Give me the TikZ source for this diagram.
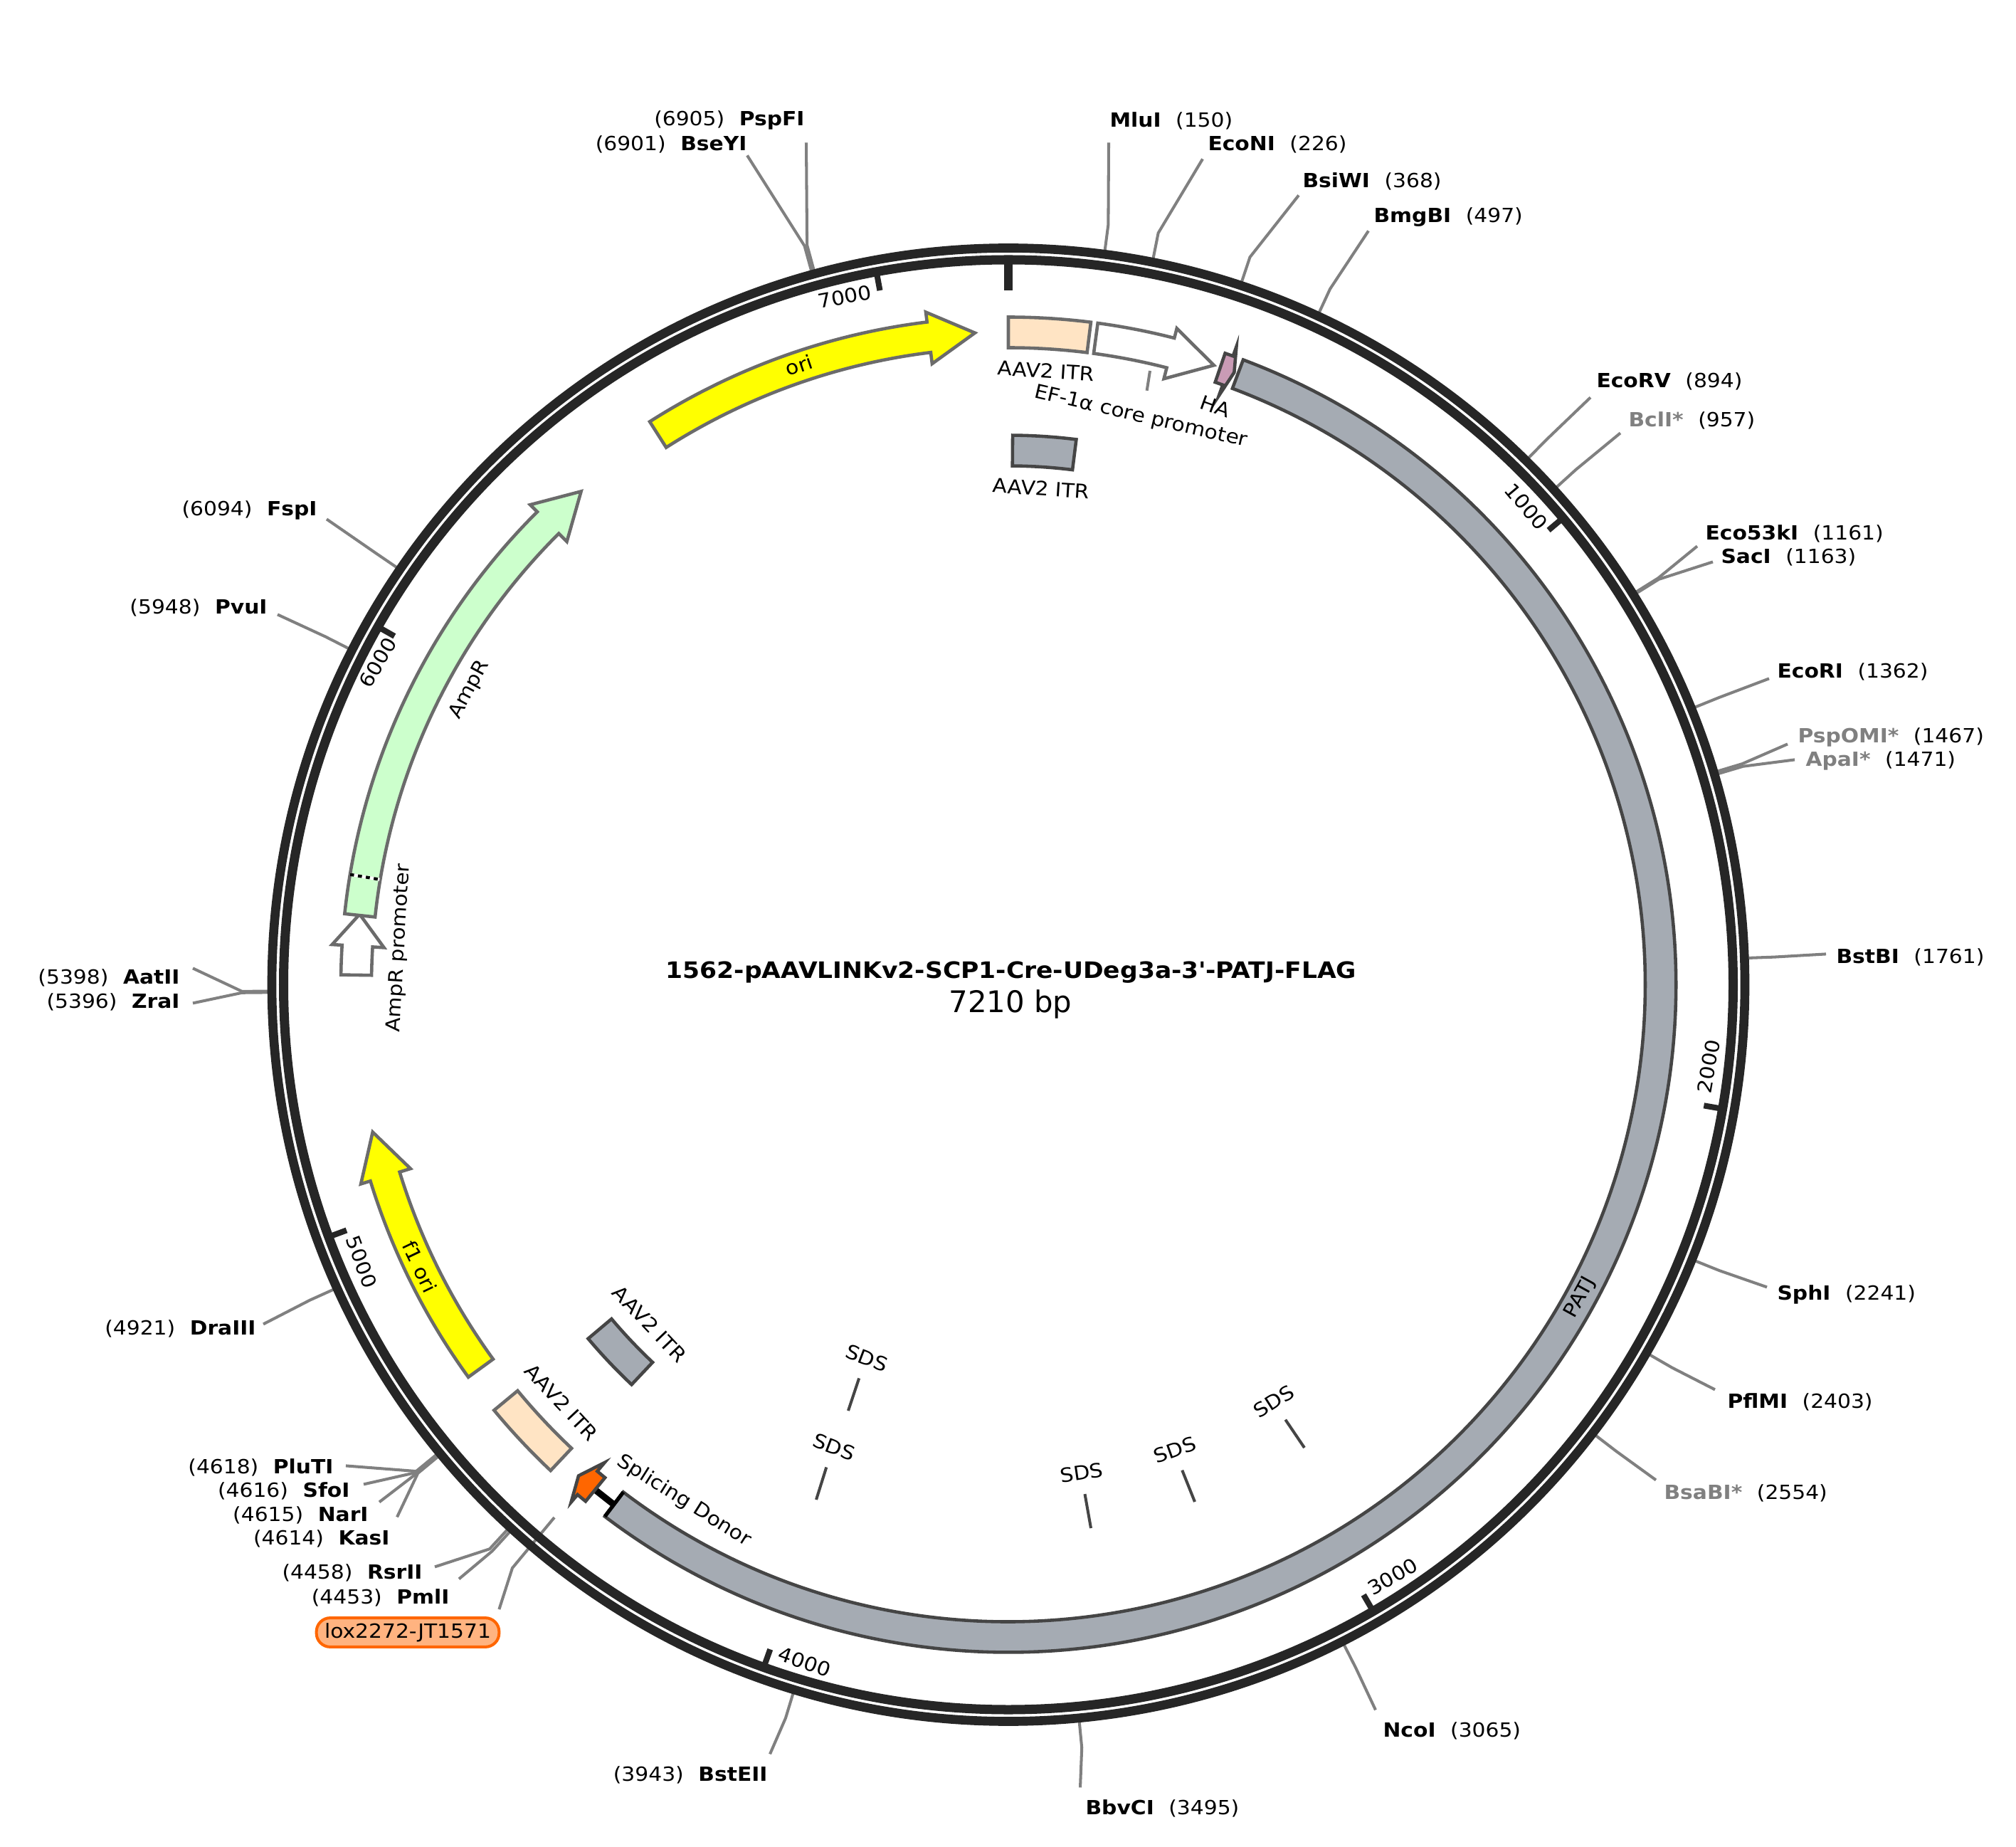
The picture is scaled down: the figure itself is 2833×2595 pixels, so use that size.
\documentclass[tikz,border=0pt]{standalone}
\usepackage{fontspec}
\setmainfont[FakeStretch=1.085]{DejaVu Sans}
\newfontfamily\sizefont{DejaVu Sans}
\definecolor{ring_col}{HTML}{262626}
\definecolor{cut_col}{HTML}{808080}
\definecolor{edge_col}{HTML}{6B6B6B}
\definecolor{edge_dark}{HTML}{454545}
\definecolor{gray_feat}{HTML}{A5ABB3}
\definecolor{peach_feat}{HTML}{FFE4C4}
\definecolor{green_feat}{HTML}{CCFFCC}
\definecolor{yellow_feat}{HTML}{FFFF00}
\definecolor{pink_feat}{HTML}{C99BB5}
\definecolor{orange_feat}{HTML}{FF6600}
\definecolor{lox_fill}{HTML}{FFB380}
% annular box: [style]{from}{to}{outer}{inner}, angles clockwise from the top
\newcommand{\featbox}[5][]{\draw[#1] ({90-#2}:#4) arc[start angle=90-#2,end angle=90-#3,radius=#4] -- ({90-#3}:#5) arc[start angle=90-#3,end angle=90-#2,radius=#5] -- cycle;}
% annular arrow: [style]{tail}{shoulder}{tip}
\newcommand{\featarrow}[4][]{\draw[#1] ({90-#2}:938) arc[start angle=90-#2,end angle=90-#3,radius=938] -- ({90-#3}:952) -- ({90-#4}:917) -- ({90-#3}:879) -- ({90-#3}:895) arc[start angle=90-#3,end angle=90-#2,radius=895] -- cycle;}

\begin{document}
\begin{tikzpicture}[
  x=.01cm,y=.01cm,
  base_font/.style={font=\fontsize{7.8pt}{9pt}\selectfont},
  site_right/.style={base_font,anchor=west,inner sep=2.5pt,yshift=-.4pt},
  site_left/.style={base_font,anchor=east,inner sep=2.5pt,yshift=-.4pt},
  cut_line/.style={draw=cut_col,line width=1.15pt},
  feat/.style={draw=edge_col,line width=1.3pt,miter limit=20},
  feat_dark/.style={draw=edge_dark,line width=1.3pt,miter limit=20},
  feat_label/.style={base_font,inner sep=0pt},
  tick_label/.style={base_font,inner sep=0pt},
  sds_label/.style={base_font,inner xsep=0pt,inner ysep=5.5pt},
  sds_line/.style={draw=edge_dark,line width=1.15pt}
  ]
  \useasboundingbox (0,0) rectangle (2833,-2595);

%title
  \node (title) [font=\fontsize{9.05pt}{10pt}\selectfont\bfseries,inner sep=0pt] at(1421,-1366) {1562-pAAVLINKv2-SCP1-Cre-UDeg3a-3\textquotesingle-PATJ-FLAG};
  \node (size) [font=\fontsize{11.9pt}{14pt}\selectfont\sizefont,inner sep=0pt] at(1420,-1411) {7210 bp};

%sites, right side
  \node (MluI) [site_right] at(1550,-168) {\textbf{MluI}\hspace{.75em}(150)};
  \node (EcoNI) [site_right] at(1688,-202) {\textbf{EcoNI}\hspace{.75em}(226)};
  \node (BsiWI) [site_right] at(1821,-253) {\textbf{BsiWI}\hspace{.75em}(368)};
  \node (BmgBI) [site_right] at(1921,-304) {\textbf{BmgBI}\hspace{.75em}(497)};
  \node (EcoRV) [site_right] at(2234,-535) {\textbf{EcoRV}\hspace{.75em}(894)};
  \node (BclI) [site_right] at(2279,-589) {\textcolor{cut_col}{\textbf{BclI*}}\hspace{.75em}(957)};
  \node (Eco53kI) [site_right] at(2387,-748) {\textbf{Eco53kI}\hspace{.75em}(1161)};
  \node (SacI) [site_right] at(2409,-782) {\textbf{SacI}\hspace{.75em}(1163)};
  \node (EcoRI) [site_right] at(2488,-943) {\textbf{EcoRI}\hspace{.75em}(1362)};
  \node (PspOMI) [site_right] at(2517,-1035) {\textcolor{cut_col}{\textbf{PspOMI*}}\hspace{.75em}(1467)};
  \node (ApaI) [site_right] at(2528,-1068) {\textcolor{cut_col}{\textbf{ApaI*}}\hspace{.75em}(1471)};
  \node (BstBI) [site_right] at(2571,-1343) {\textbf{BstBI}\hspace{.75em}(1761)};
  \node (SphI) [site_right] at(2488,-1818) {\textbf{SphI}\hspace{.75em}(2241)};
  \node (PflMI) [site_right] at(2418,-1968) {\textbf{PflMI}\hspace{.75em}(2403)};
  \node (BsaBI) [site_right] at(2329,-2096) {\textcolor{cut_col}{\textbf{BsaBI*}}\hspace{.75em}(2554)};
  \node (NcoI) [site_right] at(1934,-2430) {\textbf{NcoI}\hspace{.75em}(3065)};
  \node (BbvCI) [site_right] at(1516,-2539) {\textbf{BbvCI}\hspace{.75em}(3495)};

%sites, left side
  \node (BstEII) [site_left] at(1088,-2492) {(3943)\hspace{.75em}\textbf{BstEII}};
  \node (PmlI) [site_left] at(641,-2243) {(4453)\hspace{.75em}\textbf{PmlI}};
  \node (RsrII) [site_left] at(603,-2208) {(4458)\hspace{.75em}\textbf{RsrII}};
  \node (KasI) [site_left] at(557,-2160) {(4614)\hspace{.75em}\textbf{KasI}};
  \node (NarI) [site_left] at(527,-2127) {(4615)\hspace{.75em}\textbf{NarI}};
  \node (SfoI) [site_left] at(501,-2093) {(4616)\hspace{.75em}\textbf{SfoI}};
  \node (PluTI) [site_left] at(478,-2060) {(4618)\hspace{.75em}\textbf{PluTI}};
  \node (DraIII) [site_left] at(369,-1865) {(4921)\hspace{.75em}\textbf{DraIII}};
  \node (ZraI) [site_left] at(262,-1406) {(5396)\hspace{.75em}\textbf{ZraI}};
  \node (AatII) [site_left] at(262,-1372) {(5398)\hspace{.75em}\textbf{AatII}};
  \node (PvuI) [site_left] at(385,-853) {(5948)\hspace{.75em}\textbf{PvuI}};
  \node (FspI) [site_left] at(455,-716) {(6094)\hspace{.75em}\textbf{FspI}};
  \node (BseYI) [site_left] at(1059,-202) {(6901)\hspace{.75em}\textbf{BseYI}};
  \node (PspFI) [site_left] at(1140,-168) {(6905)\hspace{.75em}\textbf{PspFI}};

  \node (lox) [base_font,rectangle,rounded corners=5.5pt,minimum width=73pt,minimum height=11.6pt,inner sep=0pt,fill=lox_fill,draw=orange_feat,line width=1.15pt] at(573,-2293.5) {lox2272-JT1571};

\begin{scope}[shift={(1417,-1383.5)}]

%cut lines
  \foreach \nm/\al/\anc/\ox/\oy in {MluI/7.49/west/8/-31,EcoNI/11.28/west/2/-20,BsiWI/18.37/west/4/-20,BmgBI/24.82/west/2/-19,EcoRV/44.64/west/1/-22,BclI/47.78/west/-2/-18,Eco53kI/57.97/west/-2/-18,SacI/58.07/west/-2/-6,EcoRI/68.0/west/-2/-9,PspOMI/73.25/west/-5/-9,ApaI/73.45/west/-6/2,BstBI/87.93/west/-5/4,SphI/111.9/west/-5/11,PflMI/119.98/west/-8/17,BsaBI/127.5/west/-2/18,NcoI/153.04/west/-1/29,BbvCI/174.5/west/2/29,BstEII/196.9/east/-6/29,PmlI/222.35/east/4/26,RsrII/222.6/east/8/8,KasI/230.4/east/1/30,NarI/230.45/east/6/18,SfoI/230.5/east/10/9,PluTI/230.6/east/8/2,DraIII/245.7/east/1/6,ZraI/269.4/east/9/-2,AatII/269.5/east/9/13,PvuI/297/east/5/-9,FspI/304.3/east/4/-12,BseYI/344.57/east/-9/-15,PspFI/344.77/east/-7/-31}
  {
    \coordinate (\nm_ring) at ({90-\al}:1041);
    \coordinate (\nm_bend) at ({90-\al}:1077);
    \draw[cut_line] (\nm_ring) -- (\nm_bend) -- ([shift={(\ox,\oy)}]\nm.\anc);
  }

%lox line goes under the rings
  \coordinate (lox_end) at (-638,-748.5);
  \coordinate (lox_bend) at (-697,-819.5);
  \draw[cut_line] (lox_end) -- (lox_bend) -- ([shift={(-2,10)}]lox.north east);

%rings
  \draw[ring_col,line width=3.6pt] (0,0) circle (1035);
  \draw[ring_col,line width=3.7pt] (0,0) circle (1018.5);

%ticks
  \draw[ring_col,line width=3.56pt] (90:1013) -- (90:975);
  \foreach \bp in {1000,2000,...,7000}
  {
    \draw[ring_col,line width=2.3pt] ({90-\bp/7210*360}:1013) -- ({90-\bp/7210*360}:992);
  }

%features, outer track
  \featarrow[feat,fill=yellow_feat]{-32.5}{-7}{-2.94}
  \featbox[feat,fill=peach_feat]{0}{7.1}{938}{895}
  \featarrow[feat,fill=white]{7.7}{14.4}{18.36}
  \featarrow[feat_dark,fill=pink_feat]{18.95}{19.67}{20.25}
  \featbox[feat_dark,fill=gray_feat]{20.6}{217.2}{938}{895}
  \draw[black,line width=1.5pt] ({90-217.2}:938) -- ({90-217.2}:895);
  \coordinate (patj_end) at ({90-217.2}:917);
  \coordinate (donor_end) at ({90-219.3}:917);
  \draw[black,line width=2.6pt] (patj_end) -- (donor_end);
  \featarrow[feat_dark,fill=orange_feat]{219.3}{220.2}{221.2}
  \featbox[feat,fill=peach_feat]{223.3}{230.4}{938}{895}
  \featarrow[feat,fill=yellow_feat]{234}{252.9}{256.95}
  \featarrow[feat,fill=white]{270.85}{273.4}{276.2}
  \featarrow[feat,fill=green_feat]{276.1}{315.1}{319.1}
  \coordinate (amp_a) at ({90+80.5}:938);
  \coordinate (amp_b) at ({90+80.5}:896);
  \draw[white,line width=1.2pt] (amp_a) -- (amp_b);
  \draw[black,line width=1.2pt,dash pattern=on 1.6pt off 1.6pt] (amp_a) -- (amp_b);

%features, inner track
  \featbox[feat_dark,fill=gray_feat]{.45}{7.1}{772}{729}
  \featbox[feat_dark,fill=gray_feat]{223.3}{229.9}{772}{729}
\end{scope}

%feature labels
  \node (ori_label) [feat_label,rotate=18.7] at(1123,-513) {ori};
  \node (itr_label_a) [feat_label,rotate=-3.5] at(1470,-521) {AAV2 ITR};
  \node (ef_label) [base_font,inner xsep=0pt,inner ysep=7pt,rotate=-13.1] at(1603,-586) {EF-1α core promoter};
  \node (ha_label) [feat_label,rotate=-19.6] at(1708,-571) {HA};
  \node (itr_label_b) [feat_label,rotate=-3.7] at(1463,-686) {AAV2 ITR};
  \node (patj_label) [feat_label,rotate=61.2] at(2221,-1823) {PATJ};
  \node (amp_label) [feat_label,rotate=61.5] at(660,-969) {AmpR};
  \node (promoter_label) [feat_label,rotate=86.6] at(561,-1332) {AmpR promoter};
  \node (f1_label) [feat_label,rotate=-64.4] at(590,-1780) {f1 ori};
  \node (itr_label_c) [feat_label,rotate=-47] at(789,-1970) {AAV2 ITR};
  \node (itr_label_d) [feat_label,rotate=-46.5] at(913,-1860) {AAV2 ITR};
  \node (donor_label) [feat_label,rotate=-32.2] at(961,-2109) {Splicing Donor};

  \coordinate (ef_mark) at(1616,-521);
  \draw[cut_line] (ef_mark) -- (ef_label.north);

%tick labels
  \node (tick_1000) [tick_label,rotate=-49.9] at(2145,-712) {1000};
  \node (tick_2000) [tick_label,rotate=80] at(2401,-1498) {2000};
  \node (tick_3000) [tick_label,rotate=30.2] at(1957,-2215) {3000};
  \node (tick_4000) [tick_label,rotate=-19.7] at(1131,-2335) {4000};
  \node (tick_5000) [tick_label,rotate=-69.7] at(508,-1773) {5000};
  \node (tick_6000) [tick_label,rotate=60.4] at(531,-931) {6000};
  \node (tick_7000) [tick_label,rotate=10.5] at(1187,-417) {7000};

%SDS
  \node (sds_1) [sds_label,rotate=-20.8] at(1218,-1908) {SDS};
  \node (sds_2) [sds_label,rotate=-20.6] at(1172,-2033) {SDS};
  \node (sds_3) [sds_label,rotate=8.5] at(1520,-2069) {SDS};
  \node (sds_4) [sds_label,rotate=19.7] at(1651,-2037) {SDS};
  \node (sds_5) [sds_label,rotate=32.5] at(1790,-1969) {SDS};
  \coordinate (sds_1_end) at(1192,-1982);
  \coordinate (sds_2_end) at(1147,-2107);
  \coordinate (sds_3_end) at(1533,-2147);
  \coordinate (sds_4_end) at(1679,-2110);
  \coordinate (sds_5_end) at(1833,-2034);
  \foreach \s in {1,...,5}
  {
    \draw[sds_line] (sds_\s.south) -- (sds_\s_end);
  }

\end{tikzpicture}
\end{document}
